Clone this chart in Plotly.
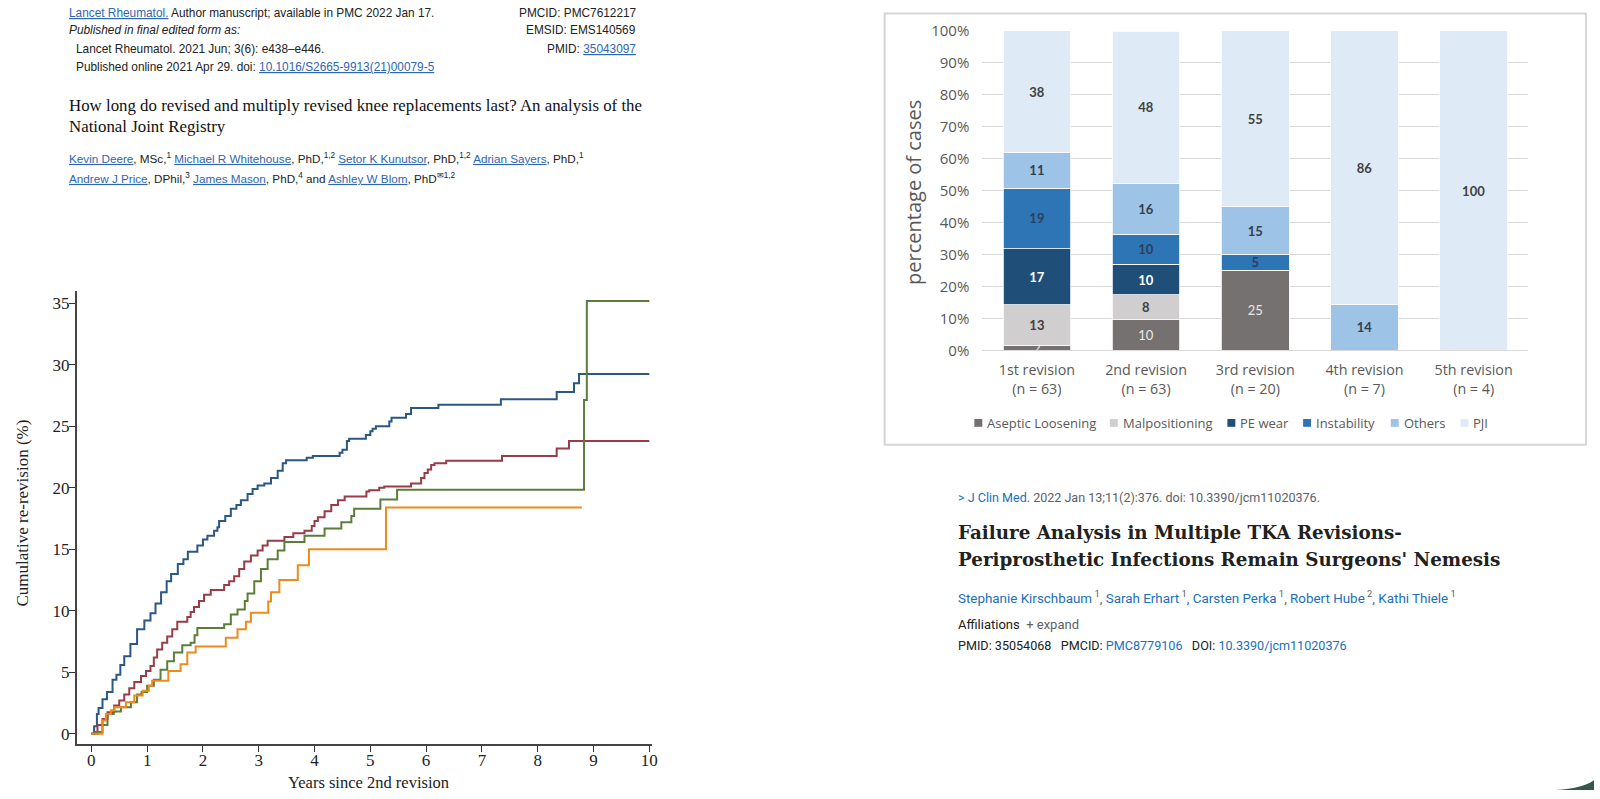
import plotly.graph_objects as go

# ---------------- Line chart data (cumulative re-revision, %) ----------------
blue_x = [0, 0.05, 0.1, 0.13, 0.2, 0.28, 0.38, 0.45, 0.52, 0.59, 0.7, 0.82, 0.95, 1.06, 1.15, 1.25,
          1.35, 1.43, 1.55, 1.65, 1.73, 1.9, 2.0, 2.08, 2.2, 2.26, 2.29, 2.4, 2.5, 2.6, 2.68, 2.8,
          2.89, 2.98, 3.1, 3.22, 3.34, 3.43, 3.49, 3.86, 3.97, 4.45, 4.5, 4.58, 4.62, 4.92, 5.0,
          5.04, 5.1, 5.34, 5.38, 5.64, 5.73, 6.22, 7.34, 8.34, 8.65, 8.74, 10.0]
blue_y = [0, 0.6, 1.6, 2.1, 2.8, 3.4, 4.4, 4.8, 5.6, 6.3, 7.3, 8.5, 9.2, 9.8, 10.6, 11.5,
          12.4, 13.0, 13.8, 14.2, 14.8, 15.3, 15.8, 16.1, 16.5, 16.8, 17.3, 17.7, 18.3, 18.6, 19.0, 19.5,
          19.9, 20.2, 20.35, 20.8, 21.4, 22.0, 22.25, 22.45, 22.6, 22.85, 23.1, 23.8, 24.0, 24.3, 24.6,
          24.8, 25.0, 25.4, 25.7, 26.0, 26.5, 26.75, 27.2, 27.8, 28.5, 29.25, 29.25]

red_x = [0, 0.11, 0.2, 0.29, 0.41, 0.5, 0.59, 0.68, 0.77, 0.89, 0.98, 1.06, 1.12, 1.18, 1.27, 1.36,
         1.45, 1.54, 1.72, 1.78, 1.84, 1.93, 2.02, 2.14, 2.38, 2.47, 2.56, 2.65, 2.74, 2.86, 2.98,
         3.07, 3.16, 3.46, 3.62, 3.82, 3.95, 4.0, 4.06, 4.18, 4.3, 4.42, 4.54, 4.93, 4.98, 5.16, 5.25,
         5.73, 5.91, 5.97, 6.03, 6.09, 6.15, 6.36, 7.36, 8.34, 8.56, 10.0]
red_y = [0, 0.7, 1.2, 1.75, 2.3, 2.7, 3.2, 3.7, 4.2, 4.7, 5.1, 5.5, 6.2, 6.85, 7.4, 7.9,
         8.5, 9.1, 9.5, 9.9, 10.3, 10.8, 11.3, 11.7, 12.1, 12.4, 12.8, 13.4, 14.0, 14.5, 14.9,
         15.3, 15.7, 16.0, 16.3, 16.5, 16.9, 17.3, 17.6, 18.1, 18.6, 19.0, 19.3, 19.7, 19.8, 20.0, 20.1,
         20.35, 20.8, 21.2, 21.5, 21.85, 22.0, 22.2, 22.6, 23.2, 23.8, 23.8]

green_x = [0, 0.08, 0.2, 0.29, 0.4, 0.53, 0.71, 0.82, 0.9, 1.0, 1.12, 1.24, 1.36, 1.48, 1.63, 1.78,
           1.85, 1.9, 2.38, 2.5, 2.62, 2.75, 2.8, 2.92, 3.04, 3.16, 3.34, 3.46, 3.82, 4.18, 4.48,
           4.66, 4.71, 5.18, 5.48, 8.83, 8.88, 10.0]
green_y = [0, 0.15, 0.7, 1.6, 1.8, 2.15, 2.55, 3.2, 3.4, 3.9, 4.4, 5.2, 5.9, 6.6, 7.2, 7.4,
           8.0, 8.6, 8.9, 9.7, 10.1, 10.8, 11.4, 12.4, 13.4, 14.2, 14.9, 15.6, 16.1, 16.7, 17.2,
           17.7, 18.3, 19.05, 19.85, 27.15, 35.2, 35.2]

orange_x = [0, 0.2, 0.26, 0.35, 0.41, 0.62, 0.77, 0.92, 1.03, 1.09, 1.38, 1.6, 1.72, 1.87, 2.41,
            2.62, 2.77, 2.86, 3.17, 3.22, 3.37, 3.7, 3.9, 5.28, 8.79]
orange_y = [0, 1.07, 1.6, 1.9, 2.15, 2.55, 3.1, 3.5, 3.9, 4.3, 5.1, 5.65, 6.6, 7.1, 7.8,
            8.5, 9.1, 9.85, 10.75, 11.5, 12.5, 13.7, 15.0, 18.4, 18.4]

line_x_ticks = list(range(0, 11))
line_y_ticks = [0, 5, 10, 15, 20, 25, 30, 35]

# ---------------- Bar chart data (percentage of cases) ----------------
categories = ["1st revision", "2nd revision", "3rd revision", "4th revision", "5th revision"]
category_labels = ["1st revision<br>(n = 63)", "2nd revision<br>(n = 63)", "3rd revision<br>(n = 20)",
                   "4th revision<br>(n = 7)", "5th revision<br>(n = 4)"]
aseptic = [1.6, 9.5, 25.0, 0, 0]
malposition = [12.7, 7.9, 0, 0, 0]
pe_wear = [17.5, 9.5, 0, 0, 0]
instability = [19.0, 9.5, 5.0, 0, 0]
others = [11.1, 15.9, 15.0, 14.3, 0]
pji = [38.1, 47.6, 55.0, 85.7, 100.0]

aseptic_lbl = ["2", "10", "25", "", ""]
malposition_lbl = ["13", "8", "", "", ""]
pe_wear_lbl = ["17", "10", "", "", ""]
instability_lbl = ["19", "10", "5", "", ""]
others_lbl = ["11", "16", "15", "14", ""]
pji_lbl = ["38", "48", "55", "86", "100"]

pct_ticks = [0, 10, 20, 30, 40, 50, 60, 70, 80, 90, 100]
pct_ticktext = [f"{v}%" for v in pct_ticks]

W, H = 1600, 799
def PX(x):
    return x / W
def PY(y):
    return 1 - y / H

fig = go.Figure()

# line traces
for xs, ys, col in [(blue_x, blue_y, "#2b5785"), (red_x, red_y, "#973c48"),
                    (green_x, green_y, "#5b7d3a"), (orange_x, orange_y, "#ee8a1c")]:
    fig.add_trace(go.Scatter(x=xs, y=ys, mode="lines", line=dict(color=col, width=2, shape="hv"),
                             showlegend=False, hoverinfo="skip", xaxis="x", yaxis="y"))

# bar traces
bar_specs = [
    ("Aseptic Loosening", aseptic, aseptic_lbl, "#767171", "#e8e8e8", False),
    ("Malpositioning", malposition, malposition_lbl, "#d0cece", "#404040", True),
    ("PE wear", pe_wear, pe_wear_lbl, "#1f4e79", "#ffffff", True),
    ("Instability", instability, instability_lbl, "#2e75b6", "#2a3f5c", True),
    ("Others", others, others_lbl, "#9dc3e6", "#333f4f", True),
    ("PJI", pji, pji_lbl, "#deebf7", "#404040", True),
]
for name, vals, lbls, col, tcol, bold in bar_specs:
    fig.add_trace(go.Bar(
        x=categories, y=vals, name=name,
        text=[f"<b>{t}</b>" if (bold and t) else t for t in lbls],
        textposition="inside", insidetextanchor="middle", constraintext="none", textangle=0,
        textfont=dict(family="Lato", size=13, color=tcol),
        marker=dict(color=col, line=dict(color="#ffffff", width=0.8)),
        showlegend=False, hoverinfo="skip", xaxis="x2", yaxis="y2"))

serif = "Liberation Serif"
fig.update_layout(
    width=W, height=H, margin=dict(l=0, r=0, t=0, b=0),
    paper_bgcolor="white", plot_bgcolor="white",
    barmode="stack", bargap=0.38,
    xaxis=dict(domain=[PX(77), PX(654)], range=[-0.262, 10.04], tickvals=line_x_ticks,
               ticks="outside", ticklen=6, tickwidth=1.2, tickcolor="#333",
               showline=True, linecolor="#444", linewidth=1.5, showgrid=False, zeroline=False,
               ticklabelstandoff=-6,
               tickfont=dict(family=serif, size=17, color="#222")),
    yaxis=dict(domain=[PY(752), PY(286.7)], range=[-0.85, 36.05], tickvals=line_y_ticks,
               ticks="outside", ticklen=6, tickwidth=1.2, tickcolor="#333",
               showline=True, linecolor="#444", linewidth=1.5, showgrid=False, zeroline=False,
               ticklabelstandoff=-4,
               tickfont=dict(family=serif, size=17, color="#222")),
    xaxis2=dict(domain=[PX(986), PX(1534)], type="category", range=[-0.5, 4.5],
                tickvals=categories, ticktext=category_labels, ticks="",
                showline=True, linecolor="#d9d9d9", linewidth=1, showgrid=False, zeroline=False,
                tickfont=dict(family="Open Sans", size=14.3, color="#595959"),
                ticklabelstandoff=7, anchor="y2"),
    yaxis2=dict(domain=[PY(348), PY(20.5)], range=[0, 100], tickvals=pct_ticks, ticktext=pct_ticktext,
                ticks="", showline=False, showgrid=True, gridcolor="#d9d9d9", gridwidth=1, zeroline=False,
                tickfont=dict(family="Open Sans", size=15, color="#595959"),
                ticklabelstandoff=12, anchor="x2"),
)

ann = []
def A(x, y, text, size=12, family="Liberation Sans", color="#222", xanchor="left", angle=0):
    ann.append(dict(x=PX(x), y=PY(y), xref="paper", yref="paper", text=text, showarrow=False,
                    xanchor=xanchor, yanchor="middle", textangle=angle,
                    font=dict(family=family, size=size, color=color)))

link = "#2e66b0"
hs = 11.85
# Left header
A(67, 2.5, f"<span style='color:{link}'><u>Lancet Rheumatol.</u></span> Author manuscript; available in PMC 2022 Jan 17.", hs)
A(67, 20, "<i>Published in final edited form as:</i>", hs)
A(74, 38.5, "Lancet Rheumatol. 2021 Jun; 3(6): e438–e446.", hs)
A(74, 57, f"Published online 2021 Apr 29. doi: <span style='color:{link}'><u>10.1016/S2665-9913(21)00079-5</u></span>", hs)
A(640, 2.5, "PMCID: PMC7612217", hs, xanchor="right")
A(640, 20, "EMSID: EMS140569", hs, xanchor="right")
A(640, 38.5, f"PMID: <span style='color:{link}'><u>35043097</u></span>", hs, xanchor="right")
A(67, 97, "How long do revised and multiply revised knee replacements last? An analysis of the", 16.85, serif, "#111")
A(67, 118, "National Joint Registry", 16.85, serif, "#111")

def L(t):
    return f"<span style='color:{link}'><u>{t}</u></span>"
A(67, 151, f"{L('Kevin Deere')}, MSc,<sup>1</sup> {L('Michael R Whitehouse')}, PhD,<sup>1,2</sup> "
           f"{L('Setor K Kunutsor')}, PhD,<sup>1,2</sup> {L('Adrian Sayers')}, PhD,<sup>1</sup>", 11.7)
A(67, 171.5, f"{L('Andrew J Price')}, DPhil,<sup>3</sup> {L('James Mason')}, PhD,<sup>4</sup> and "
             f"{L('Ashley W Blom')}, PhD<sup>✉1,2</sup>", 11.7)

# line chart axis titles
A(22.5, 515, "Cumulative re-revision (%)", 17, serif, "#222", xanchor="center", angle=-90)
A(370, 791, "Years since 2nd revision", 16.5, serif, "#222", xanchor="center")

# bar chart axis title
A(917, 186, "percentage of cases", 20, "Open Sans", "#595959", xanchor="center", angle=-90)

# bar chart legend (manual)
legend_items = [("Aseptic Loosening", "#767171", 978), ("Malpositioning", "#d0cece", 1114),
                ("PE wear", "#1f4e79", 1232), ("Instability", "#2e75b6", 1308),
                ("Others", "#9dc3e6", 1396), ("PJI", "#deebf7", 1466)]
shapes = []
for name, col, lx in legend_items:
    shapes.append(dict(type="rect", xref="paper", yref="paper", x0=PX(lx), x1=PX(lx + 8),
                       y0=PY(426.5), y1=PY(418.5), fillcolor=col, line=dict(width=0)))
    A(lx + 11, 422.5, name, 13, "Open Sans", "#595959")

# chart box border
shapes.append(dict(type="rect", xref="paper", yref="paper", x0=PX(888), x1=PX(1592),
                   y0=PY(445), y1=PY(2.5), line=dict(color="#d6d6d6", width=2), fillcolor="rgba(0,0,0,0)"))
# corner decoration
shapes.append(dict(type="path", xref="paper", yref="paper",
                   path=f"M {PX(1562)} {PY(799)} Q {PX(1588)} {PY(797.5)} {PX(1600)} {PY(789)} L {PX(1600)} {PY(799)} Z",
                   fillcolor="#36584b", line=dict(width=0)))

# right text block
blue2 = "#1a6fbd"
gray2 = "#5b616b"
dark = "#212121"
sans2 = "Roboto"
A(960, 498.5, f"<span style='color:{blue2}'>&gt; J Clin Med.</span> 2022 Jan 13;11(2):376. doi: 10.3390/jcm11020376.", 12.55, sans2, gray2)
A(960, 535, "<b>Failure Analysis in Multiple TKA Revisions-</b>", 18.3, "DejaVu Serif", dark)
A(960, 563, "<b>Periprosthetic Infections Remain Surgeons' Nemesis</b>", 18.3, "DejaVu Serif", dark)
sup = lambda s: f"<span style='color:{gray2}'><sup> {s}</sup></span>"
A(960, 601, f"<span style='color:{blue2}'>Stephanie Kirschbaum</span>{sup(1)}, "
            f"<span style='color:{blue2}'>Sarah Erhart</span>{sup(1)}, "
            f"<span style='color:{blue2}'>Carsten Perka</span>{sup(1)}, "
            f"<span style='color:{blue2}'>Robert Hube</span>{sup(2)}, "
            f"<span style='color:{blue2}'>Kathi Thiele</span>{sup(1)}", 13.4, sans2, gray2)
A(960, 629, f"<span style='color:{dark}'>Affiliations</span>  + expand", 13, sans2, gray2)
A(960, 651, f"PMID: 35054068   PMCID: <span style='color:{blue2}'>PMC8779106</span>   DOI: "
            f"<span style='color:{blue2}'>10.3390/jcm11020376</span>", 12.6, sans2, dark)

fig.update_layout(annotations=ann, shapes=shapes)
fig.write_html("out.html")
